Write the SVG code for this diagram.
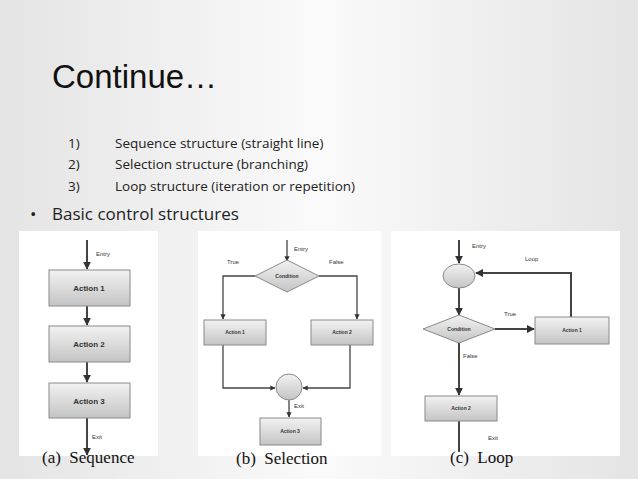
<svg xmlns="http://www.w3.org/2000/svg" width="638" height="479" viewBox="0 0 638 479">
<defs>
<linearGradient id="bg" x1="0" y1="0" x2="1" y2="0"><stop offset="0" stop-color="#e4e4e4"/><stop offset="0.5" stop-color="#fafafa"/><stop offset="1" stop-color="#e4e4e4"/></linearGradient>
<linearGradient id="box" x1="0" y1="0" x2="0" y2="1"><stop offset="0" stop-color="#f2f2f2"/><stop offset="1" stop-color="#c4c4c4"/></linearGradient>
<marker id="ar" viewBox="0 0 10 10" refX="9" refY="5" markerWidth="4" markerHeight="4" orient="auto"><path d="M0,0L10,5L0,10z" fill="#333"/></marker>
</defs>
<style>
.bx{fill:url(#box);stroke:#8a8a8a;stroke-width:1}
.ln{fill:none;stroke:#444;stroke-width:2}
.tn{fill:none;stroke:#444;stroke-width:1.3}
.lb{font-family:"Liberation Sans",Arial,sans-serif;font-weight:bold;fill:#333;text-anchor:middle}
.sm{font-family:"Liberation Sans",Arial,sans-serif;font-size:6px;fill:#333}
.cap{font-family:"Liberation Serif","Times New Roman",serif;font-size:17px;fill:#111}
.li{font-family:"Open Sans","DejaVu Sans",sans-serif;font-size:13.5px;fill:#222}
</style>
<rect width="638" height="479" fill="url(#bg)"/>
<text x="52" y="88" font-family="Liberation Sans,Arial,sans-serif" font-size="33" fill="#111">Continue…</text>
<text class="li" x="68" y="148">1)</text><text class="li" x="115" y="148">Sequence structure (straight line)</text>
<text class="li" x="68" y="169">2)</text><text class="li" x="115" y="169">Selection structure (branching)</text>
<text class="li" x="68" y="191">3)</text><text class="li" x="115" y="191">Loop structure (iteration or repetition)</text>
<text x="30" y="220" font-family="Open Sans,sans-serif" font-size="17" fill="#222">•</text>
<text x="52" y="220" font-family="Open Sans,DejaVu Sans,sans-serif" font-size="17" fill="#222">Basic control structures</text>
<rect x="19" y="231" width="139" height="225" fill="#fff"/>
<rect x="198" y="231" width="183" height="225" fill="#fff"/>
<rect x="391" y="231" width="229" height="225" fill="#fff"/>
<g id="connectors">
<path class="ln" d="M87,240V269" marker-end="url(#ar)"/>
<path class="ln" d="M87,306V325" marker-end="url(#ar)"/>
<path class="ln" d="M87,362V382" marker-end="url(#ar)"/>
<path class="ln" d="M87,418V455" marker-end="url(#ar)"/>
<path class="tn" d="M287,240V261" marker-end="url(#ar)"/>
<path class="tn" d="M255,276H223V319" marker-end="url(#ar)"/>
<path class="tn" d="M319,276H357V319" marker-end="url(#ar)"/>
<path class="tn" d="M223,345V388H275" marker-end="url(#ar)"/>
<path class="tn" d="M350,345V388H303" marker-end="url(#ar)"/>
<path class="tn" d="M289,400V417" marker-end="url(#ar)"/>
<path class="ln" d="M459,240V263" marker-end="url(#ar)"/>
<path class="ln" d="M459,288V315" marker-end="url(#ar)"/>
<path class="ln" d="M495,329H534" marker-end="url(#ar)"/>
<path class="ln" d="M571,317V273H476" marker-end="url(#ar)"/>
<path class="ln" d="M459,343V395" marker-end="url(#ar)"/>
<path class="ln" d="M459,421V452"/>
</g>
<g id="a-a1"><rect class="bx" x="49" y="270" width="81" height="36"/><text class="lb" x="89" y="291" font-size="8">Action 1</text></g>
<g id="a-a2"><rect class="bx" x="49" y="326" width="81" height="36"/><text class="lb" x="89" y="347" font-size="8">Action 2</text></g>
<g id="a-a3"><rect class="bx" x="49" y="383" width="81" height="35"/><text class="lb" x="89" y="404" font-size="8">Action 3</text></g>
<text class="sm" x="96" y="256">Entry</text><text class="sm" x="92" y="439">Exit</text>
<g id="b-cond"><polygon class="bx" points="287,260 319,276 287,292 255,276"/><text class="lb" x="287" y="278" font-size="5">Condition</text></g>
<g id="b-a1"><rect class="bx" x="204" y="320" width="62" height="25"/><text class="lb" x="235" y="334" font-size="5">Action 1</text></g>
<g id="b-a2"><rect class="bx" x="311" y="320" width="62" height="25"/><text class="lb" x="342" y="334" font-size="5">Action 2</text></g>
<g id="b-join"><ellipse class="bx" cx="289" cy="387" rx="13" ry="13"/></g>
<g id="b-a3"><rect class="bx" x="260" y="418" width="61" height="27"/><text class="lb" x="290" y="433" font-size="5">Action 3</text></g>
<text class="sm" x="294" y="251" font-size="4.5">Entry</text><text class="sm" x="227" y="264" font-size="4.5">True</text><text class="sm" x="329" y="264" font-size="4.5">False</text><text class="sm" x="294" y="408" font-size="4.5">Exit</text>
<g id="c-join"><ellipse class="bx" cx="459" cy="276" rx="16" ry="12"/></g>
<g id="c-cond"><polygon class="bx" points="459,315 495,329 459,343 423,329"/><text class="lb" x="459" y="331" font-size="5">Condition</text></g>
<g id="c-a1"><rect class="bx" x="535" y="317" width="74" height="27"/><text class="lb" x="572" y="332" font-size="5">Action 1</text></g>
<g id="c-a2"><rect class="bx" x="425" y="396" width="72" height="25"/><text class="lb" x="461" y="410" font-size="5">Action 2</text></g>
<text class="sm" x="472" y="248" font-size="4.5">Entry</text><text class="sm" x="525" y="261" font-size="4.5">Loop</text><text class="sm" x="504" y="316" font-size="4.5">True</text><text class="sm" x="463" y="358" font-size="4.5">False</text><text class="sm" x="488" y="440" font-size="4.5">Exit</text>
<text class="cap" x="42" y="463">(a)&#160; Sequence</text>
<text class="cap" x="236" y="464">(b)&#160; Selection</text>
<text class="cap" x="450" y="463">(c)&#160; Loop</text>
</svg>
